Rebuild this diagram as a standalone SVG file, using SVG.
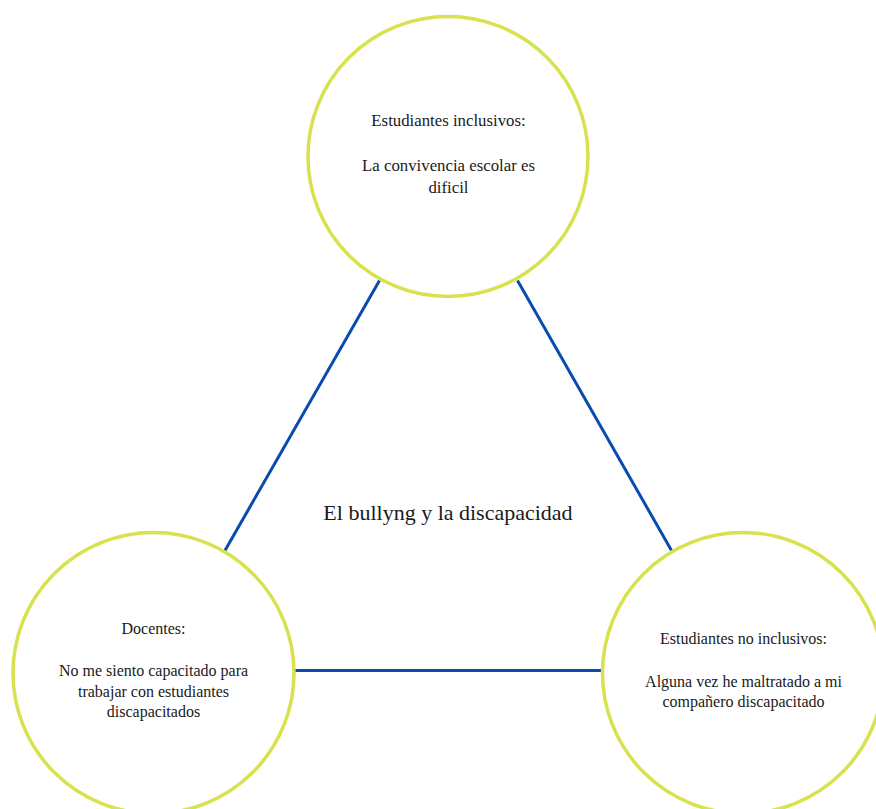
<svg xmlns="http://www.w3.org/2000/svg" width="876" height="809" viewBox="0 0 876 809">
  <style>
    .node { fill: #ffffff; stroke: #d8e24e; stroke-width: 3.5; }
    .link { stroke: #0a4bae; stroke-width: 3; fill: none; }
    .lbl { font-family: "Liberation Serif", "Times New Roman", serif; font-size: 16px; fill: #1a1a1a; text-anchor: middle; }
    .lbl-lg { font-size: 16.8px; }
    .title { font-family: "Liberation Serif", "Times New Roman", serif; font-size: 22px; fill: #1a1a1a; text-anchor: middle; }
  </style>
  <rect width="876" height="809" fill="#ffffff"/>

  <!-- connectors between the three circles -->
  <g id="connectors">
    <line class="link" x1="379.5" y1="280.5" x2="225" y2="550.5"/>
    <line class="link" x1="517.5" y1="280.5" x2="671.5" y2="550.5"/>
    <line class="link" x1="294" y1="670.5" x2="603" y2="670.5"/>
  </g>

  <!-- central topic -->
  <g id="topic">
    <text class="title" x="448" y="519.5">El bullyng y la discapacidad</text>
  </g>

  <!-- top: inclusive students -->
  <g id="estudiantes-inclusivos">
    <circle class="node" cx="448" cy="156.5" r="140"/>
    <text class="lbl lbl-lg" x="448.5" y="126">Estudiantes inclusivos:</text>
    <text class="lbl lbl-lg" x="448.5" y="170.5">La convivencia escolar es</text>
    <text class="lbl lbl-lg" x="448.5" y="192.5">dificil</text>
  </g>

  <!-- bottom left: teachers -->
  <g id="docentes">
    <circle class="node" cx="153.5" cy="673" r="140.5"/>
    <text class="lbl" x="153.5" y="633.5">Docentes:</text>
    <text class="lbl" x="153.5" y="676">No me siento capacitado para</text>
    <text class="lbl" x="153.5" y="696.5">trabajar con estudiantes</text>
    <text class="lbl" x="153.5" y="717">discapacitados</text>
  </g>

  <!-- bottom right: non-inclusive students -->
  <g id="estudiantes-no-inclusivos">
    <circle class="node" cx="743" cy="673" r="140.5"/>
    <text class="lbl" x="743.5" y="644">Estudiantes no inclusivos:</text>
    <text class="lbl" x="743.5" y="686.5">Alguna vez he maltratado a mi</text>
    <text class="lbl" x="743.5" y="706.5">compañero discapacitado</text>
  </g>
</svg>
